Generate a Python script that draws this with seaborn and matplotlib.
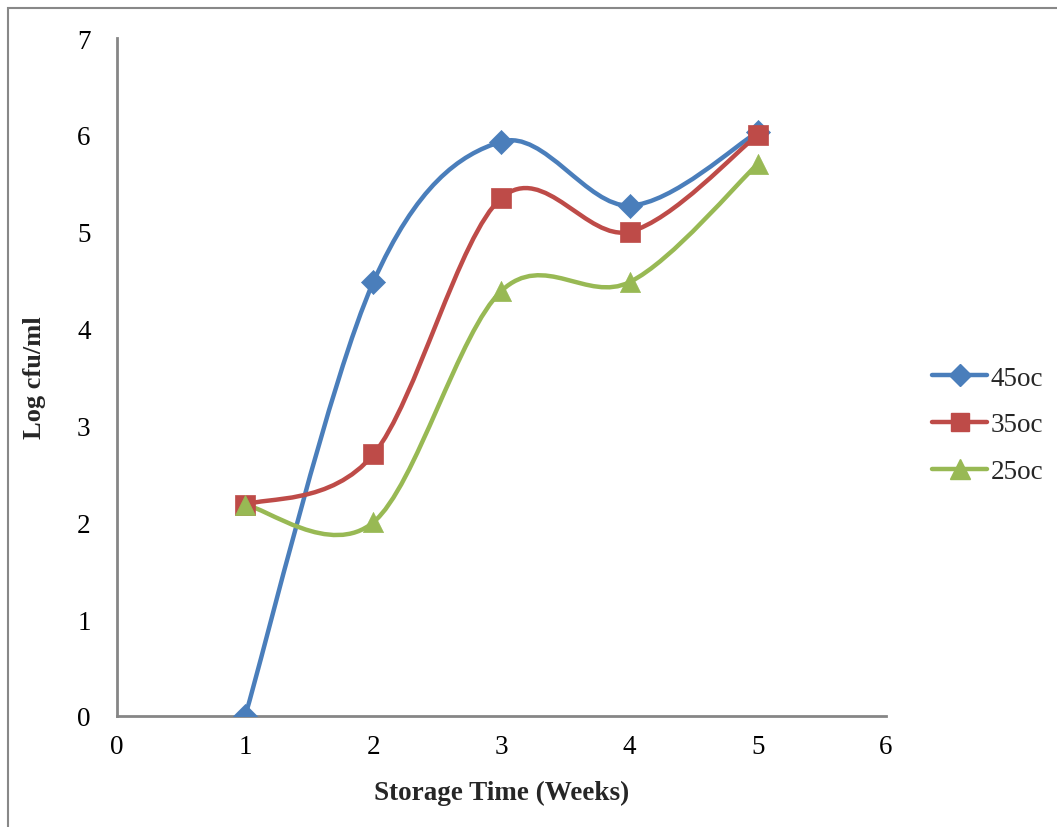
import numpy as np
import pandas as pd
import seaborn as sns
import matplotlib
matplotlib.use("Agg")
import matplotlib.pyplot as plt
from matplotlib.path import Path
from matplotlib.patches import PathPatch, Rectangle
from matplotlib.lines import Line2D

# Storage time in weeks and log counts per storage temperature
weeks = [1, 2, 3, 4, 5]
temp_45 = [0.0, 4.48, 5.93, 5.27, 6.03]
temp_35 = [2.18, 2.70, 5.35, 5.00, 6.00]
temp_25 = [2.18, 2.00, 4.39, 4.48, 5.70]
series_names = ["45oc", "35oc", "25oc"]

colors = ["#4A7EBB", "#BE4B48", "#98B954"]
markers = ["D", "s", "^"]
marker_sizes = [150, 190, 210]

sns.set_theme(style="white")
plt.rcParams["font.family"] = ["Liberation Serif", "DejaVu Serif"]

df = pd.DataFrame({
    "week": weeks * 3,
    "value": temp_45 + temp_35 + temp_25,
    "series": [s for s in series_names for _ in weeks],
})

fig = plt.figure(figsize=(10.57, 8.28), dpi=100)
ax = fig.add_axes([117 / 1057, (828 - 717) / 828, (886 - 117) / 1057, (717 - 39) / 828])

# Outer chart border
fig.patches.append(Rectangle((8 / 1057, -0.5), 2.0, (828 - 9) / 828 + 0.5,
                             transform=fig.transFigure, fill=False,
                             edgecolor="#888888", lw=1.5, zorder=0))


def smooth_path(xs, ys, t=1 / 6):
    """Cubic Bezier path through the points, with Catmull-Rom style handles."""
    pts = np.column_stack([xs, ys]).astype(float)
    n = len(pts)
    verts = [pts[0]]
    codes = [Path.MOVETO]
    for i in range(n - 1):
        p0 = pts[i - 1] if i > 0 else pts[i]
        p1 = pts[i]
        p2 = pts[i + 1]
        p3 = pts[i + 2] if i + 2 < n else pts[i + 1]
        c1 = p1 + (p2 - p0) * t
        c2 = p2 - (p3 - p1) * t
        verts += [c1, c2, p2]
        codes += [Path.CURVE4] * 3
    return Path(verts, codes)


handles = []
for name, col, mk, ms in zip(series_names, colors, markers, marker_sizes):
    sub = df[df["series"] == name]
    ax.add_patch(PathPatch(smooth_path(sub["week"].values, sub["value"].values),
                           facecolor="none", edgecolor=col, lw=3.2,
                           capstyle="round", joinstyle="round", zorder=2))
    sns.scatterplot(data=sub, x="week", y="value", marker=mk, s=ms, color=col,
                    edgecolor=col, linewidth=0.5, ax=ax, zorder=3, legend=False)
    handles.append(Line2D([0], [0], color=col, lw=3.2, marker=mk,
                          markersize=np.sqrt(ms) * 0.95, solid_capstyle="round",
                          markeredgecolor=col, label=name))

ax.set_xlim(0, 6)
ax.set_ylim(0, 7)
ax.set_xticks(range(0, 7))
ax.set_yticks(range(0, 8))
ax.tick_params(length=0, labelsize=19.5, colors="black")
ax.tick_params(axis="x", pad=13)
ax.tick_params(axis="y", pad=19)

for side in ["top", "right"]:
    ax.spines[side].set_visible(False)
for side in ["left", "bottom"]:
    ax.spines[side].set_color("#868686")
    ax.spines[side].set_linewidth(2)

ax.set_xlabel("Storage Time (Weeks)", fontsize=19.5, fontweight="bold", labelpad=15)
ax.set_ylabel("Log cfu/ml", fontsize=19, fontweight="bold", labelpad=22)

fig.legend(handles=handles, loc="center left", bbox_to_anchor=(921 / 1057, 1 - 426 / 828),
           frameon=False, fontsize=19.5, handlelength=2.05, handletextpad=0.12,
           labelspacing=0.8, borderaxespad=0)

fig.savefig("out.png", dpi=100)
